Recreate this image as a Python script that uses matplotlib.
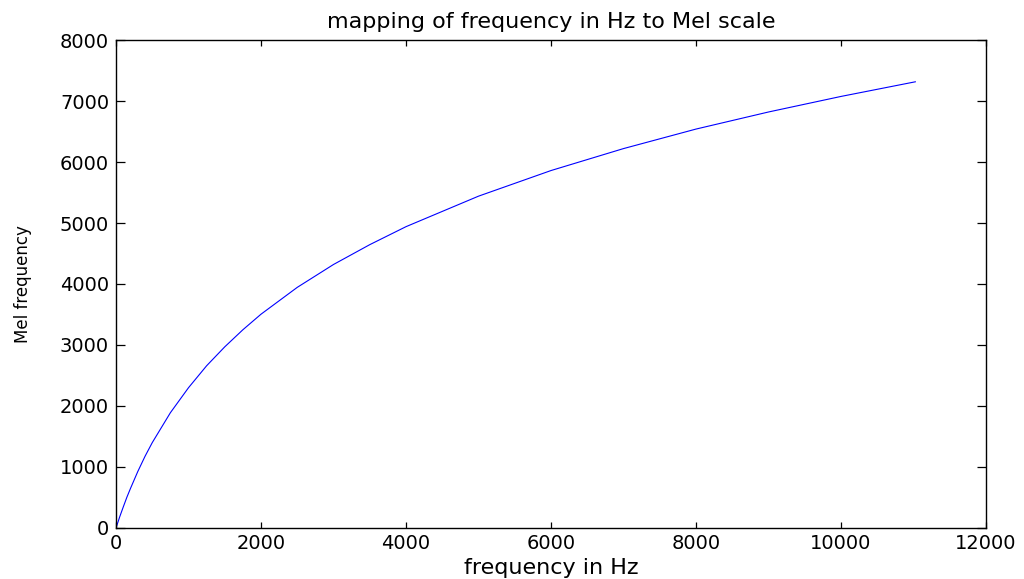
import numpy as np
import matplotlib
matplotlib.use("Agg")
import matplotlib.pyplot as plt

# frequency (Hz) against its mel value
freq_hz = [0, 50, 100, 150, 200, 300, 400, 500, 750, 1000, 1250, 1500,
           1750, 2000, 2500, 3000, 3500, 4000, 5000, 6000, 7000, 8000,
           9000, 10000, 11025]
mel = [0, 180, 345, 505, 650, 925, 1175, 1400, 1890, 2300, 2660, 2970,
       3250, 3505, 3945, 4320, 4645, 4940, 5440, 5860, 6220, 6540,
       6820, 7075, 7315]

x_ticks = [0, 2000, 4000, 6000, 8000, 10000, 12000]
y_ticks = [0, 1000, 2000, 3000, 4000, 5000, 6000, 7000, 8000]

plt.rcParams.update({
    "font.family": ["DejaVu Sans"],
    "font.size": 14,
    "axes.linewidth": 1.0,
    "xtick.direction": "in",
    "ytick.direction": "in",
    "xtick.top": True,
    "ytick.right": True,
})

fig = plt.figure(figsize=(10.24, 5.79), dpi=100)
ax = fig.add_axes([0.1133, 0.0881, 0.8496, 0.8428])

ax.plot(freq_hz, mel, color="#0000ff", lw=0.8)

ax.set_xlim(0, 12000)
ax.set_ylim(0, 8000)
ax.set_xticks(x_ticks)
ax.set_yticks(y_ticks)
ax.tick_params(axis="x", length=4.5, width=0.9, pad=4, labelsize=14)
ax.tick_params(axis="y", length=6.5, width=0.9, pad=5, labelsize=14)

ax.set_title("mapping of frequency in Hz to Mel scale", fontsize=16, pad=9)
ax.set_xlabel("frequency in Hz", fontsize=16, labelpad=4)
ax.set_ylabel("Mel frequency", fontsize=12, labelpad=20)

fig.savefig("out.png", dpi=100)
